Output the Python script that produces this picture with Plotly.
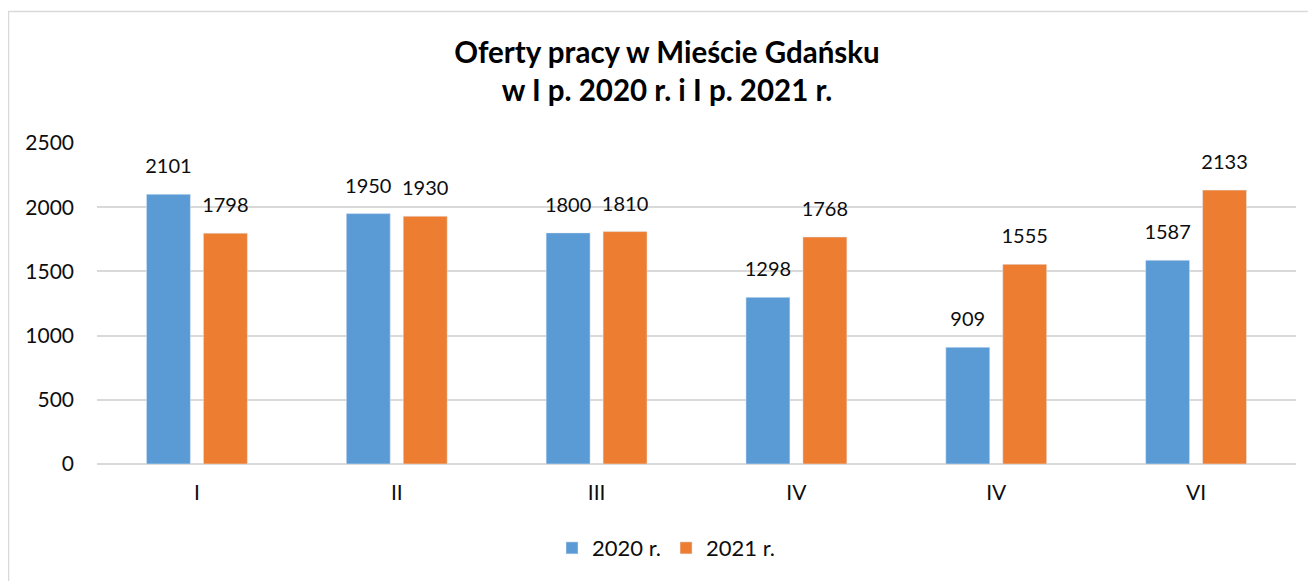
import plotly.graph_objects as go

months = ["I", "II", "III", "IV", "IV", "VI"]
values_2020 = [2101, 1950, 1800, 1298, 909, 1587]
values_2021 = [1798, 1930, 1810, 1768, 1555, 2133]
series_names = ["2020 r.", "2021 r."]
y_ticks = [0, 500, 1000, 1500, 2000, 2500]

positions = list(range(len(months)))
FONT = "Lato, 'Open Sans', sans-serif"
TXT = "#0d0d0d"

fig = go.Figure()
series = [(values_2020, series_names[0], "#5b9bd5", "a"),
          (values_2021, series_names[1], "#ed7d31", "b")]
for vals, name, color, grp in series:
    fig.add_trace(go.Bar(x=positions, y=vals, name=name, marker_color=color,
                         offsetgroup=grp, hoverinfo="y"))
# data labels, aligned with the grouped bars
for vals, name, color, grp in series:
    fig.add_trace(go.Scatter(x=positions, y=vals, mode="markers+text", offsetgroup=grp,
                             text=[str(v) for v in vals], textposition="top center",
                             marker=dict(size=24, opacity=0), showlegend=False,
                             hoverinfo="skip", cliponaxis=False,
                             textfont=dict(size=20, color=TXT, family=FONT)))

fig.update_layout(
    width=1316, height=581,
    margin=dict(l=89, r=28, t=135, b=125, autoexpand=False),
    paper_bgcolor="white", plot_bgcolor="white",
    barmode="group", bargap=0.43, bargroupgap=0.228,
    scattermode="group", scattergap=0.43,
    font=dict(family=FONT, size=21, color=TXT),
    title=dict(text="<b>Oferty pracy w Mieście Gdańsku<br>w I p. 2020 r. i I p. 2021 r.</b>",
               x=659 / 1316, xanchor="center", y=1 - 55 / 581, yref="container",
               yanchor="middle", font=dict(size=29.5, color="#000000", family=FONT)),
    legend=dict(orientation="h", x=0.475, xanchor="center", y=-0.262, yanchor="middle",
                font=dict(size=22, color=TXT), itemwidth=30, traceorder="normal"),
)
fig.update_xaxes(tickvals=positions, ticktext=months, range=[-0.5, len(months) - 0.5],
                 showgrid=False, showline=False, zeroline=False, ticks="", automargin=False,
                 ticklabelstandoff=14, tickfont=dict(size=21))
fig.update_yaxes(range=[0, 2500], tickvals=y_ticks, showgrid=True, gridcolor="#d9d9d9",
                 gridwidth=1.5, zeroline=True, zerolinecolor="#d9d9d9", zerolinewidth=1.5,
                 showline=False, ticks="", automargin=False, ticklabelstandoff=22,
                 tickfont=dict(size=21))

fig.add_shape(type="rect", xref="paper", yref="paper",
              x0=(0.5 - 89) / 1199, x1=1.1, y0=-0.5, y1=1 + (135 - 3.5) / 321,
              line=dict(color="#d9d9d9", width=1.5), fillcolor="rgba(0,0,0,0)", layer="below")

fig.write_html("out.html")
